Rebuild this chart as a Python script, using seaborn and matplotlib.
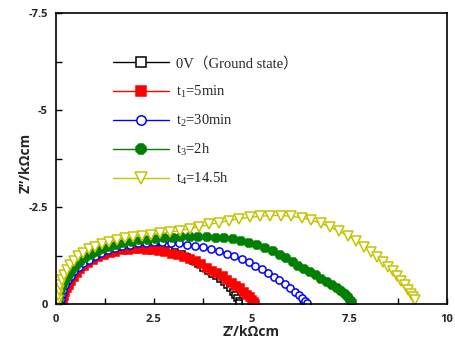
#!/usr/bin/env python3
"""
Nyquist plot - EIS spectra at different times
"""

import numpy as np
import pandas as pd
import matplotlib
matplotlib.use('Agg')
import matplotlib.pyplot as plt
from matplotlib.ticker import MultipleLocator, FixedLocator, FixedFormatter
from matplotlib.font_manager import FontProperties
import seaborn as sns

sns.set_style('ticks')
plt.rcParams['mathtext.fontset'] = 'custom'
plt.rcParams['mathtext.rm'] = 'Liberation Serif'
plt.rcParams['mathtext.it'] = 'Liberation Serif:italic'

# Data: Z' (kOhm cm) and -Z'' (kOhm cm)
labels = ['0V（Ground state）', 't$_1$=5min', 't$_2$=30min', 't$_3$=2h', 't$_4$=14.5h']

zr_0v = [0.03, 0.05, 0.08, 0.11, 0.16, 0.22, 0.29, 0.38, 0.48, 0.6, 0.73, 0.87, 1.03, 1.2,
         1.38, 1.57, 1.76, 1.95, 2.14, 2.33, 2.52, 2.7, 2.88, 3.05, 3.21, 3.36, 3.5, 3.63,
         3.76, 3.88, 3.99, 4.1, 4.2, 4.29, 4.37, 4.45, 4.52, 4.58, 4.63, 4.67, 4.69]
zi_0v = [0.0, 0.12, 0.25, 0.38, 0.51, 0.64, 0.77, 0.89, 1.0, 1.1, 1.19, 1.27, 1.34, 1.4,
         1.44, 1.47, 1.49, 1.5, 1.5, 1.49, 1.47, 1.44, 1.4, 1.35, 1.28, 1.2, 1.11, 1.02,
         0.93, 0.85, 0.78, 0.71, 0.64, 0.56, 0.48, 0.4, 0.32, 0.24, 0.16, 0.08, 0.02]

zr_t1 = [0.15, 0.17, 0.2, 0.23, 0.27, 0.32, 0.38, 0.45, 0.53, 0.62, 0.72, 0.83, 0.95, 1.08,
         1.22, 1.37, 1.52, 1.68, 1.84, 2.0, 2.16, 2.32, 2.48, 2.64, 2.8, 2.96, 3.12, 3.28,
         3.43, 3.58, 3.72, 3.86, 4.0, 4.13, 4.26, 4.38, 4.5, 4.61, 4.71, 4.8, 4.88, 4.95,
         5.01, 5.06, 5.09]
zi_t1 = [0.0, 0.1, 0.2, 0.3, 0.4, 0.5, 0.6, 0.7, 0.8, 0.89, 0.98, 1.06, 1.13, 1.2,
         1.26, 1.31, 1.35, 1.38, 1.4, 1.41, 1.41, 1.4, 1.38, 1.36, 1.33, 1.3, 1.26, 1.21,
         1.16, 1.1, 1.03, 0.94, 0.86, 0.79, 0.71, 0.63, 0.55, 0.47, 0.4, 0.32, 0.24, 0.17,
         0.1, 0.05, 0.01]

zr_t2 = [0.1, 0.12, 0.15, 0.19, 0.24, 0.3, 0.38, 0.47, 0.58, 0.7, 0.84, 0.99, 1.15, 1.32,
         1.5, 1.69, 1.89, 2.09, 2.3, 2.51, 2.72, 2.93, 3.14, 3.35, 3.56, 3.77, 3.97, 4.17,
         4.37, 4.56, 4.75, 4.93, 5.1, 5.26, 5.42, 5.57, 5.71, 5.85, 5.98, 6.1, 6.21, 6.3,
         6.38, 6.43]
zi_t2 = [0.0, 0.12, 0.25, 0.37, 0.49, 0.61, 0.73, 0.84, 0.95, 1.05, 1.14, 1.23, 1.31, 1.38,
         1.44, 1.49, 1.53, 1.56, 1.58, 1.59, 1.59, 1.58, 1.56, 1.53, 1.5, 1.46, 1.41, 1.36,
         1.3, 1.23, 1.16, 1.08, 0.99, 0.9, 0.8, 0.7, 0.61, 0.51, 0.42, 0.32, 0.23, 0.15,
         0.08, 0.03]

zr_t3 = [0.05, 0.07, 0.1, 0.14, 0.19, 0.25, 0.32, 0.41, 0.51, 0.62, 0.75, 0.89, 1.04, 1.2,
         1.37, 1.55, 1.74, 1.94, 2.14, 2.35, 2.56, 2.77, 2.98, 3.2, 3.42, 3.64, 3.86, 4.08,
         4.3, 4.52, 4.73, 4.94, 5.15, 5.35, 5.54, 5.72, 5.89, 6.05, 6.2, 6.35, 6.5, 6.65,
         6.79, 6.93, 7.06, 7.18, 7.29, 7.38, 7.46, 7.52, 7.56]
zi_t3 = [0.0, 0.12, 0.25, 0.38, 0.5, 0.63, 0.75, 0.87, 0.98, 1.08, 1.18, 1.27, 1.35, 1.42,
         1.48, 1.53, 1.57, 1.61, 1.64, 1.66, 1.68, 1.7, 1.71, 1.72, 1.73, 1.73, 1.72, 1.71,
         1.7, 1.67, 1.63, 1.58, 1.51, 1.44, 1.36, 1.27, 1.18, 1.08, 0.98, 0.9, 0.82, 0.74,
         0.65, 0.57, 0.49, 0.41, 0.33, 0.25, 0.17, 0.1, 0.05]

zr_t4 = [0.03, 0.04, 0.06, 0.08, 0.11, 0.15, 0.2, 0.27, 0.35, 0.45, 0.57, 0.7, 0.85, 1.0,
         1.17, 1.35, 1.55, 1.76, 1.98, 2.2, 2.43, 2.67, 2.92, 3.17, 3.42, 3.67, 3.92, 4.17,
         4.43, 4.69, 4.95, 5.21, 5.48, 5.75, 6.02, 6.28, 6.53, 6.78, 7.02, 7.25, 7.47, 7.68,
         7.88, 8.06, 8.22, 8.37, 8.5, 8.62, 8.73, 8.83, 8.92, 9.0, 9.07, 9.13, 9.19]
zi_t4 = [0.0, 0.1, 0.22, 0.35, 0.48, 0.62, 0.75, 0.88, 1.0, 1.12, 1.23, 1.32, 1.41, 1.48,
         1.54, 1.6, 1.65, 1.69, 1.73, 1.76, 1.79, 1.82, 1.85, 1.89, 1.94, 1.99, 2.05, 2.1,
         2.15, 2.2, 2.23, 2.26, 2.28, 2.28, 2.26, 2.22, 2.16, 2.08, 1.98, 1.87, 1.75, 1.62,
         1.48, 1.35, 1.22, 1.09, 0.96, 0.84, 0.72, 0.6, 0.48, 0.37, 0.27, 0.18, 0.11]

series = [
    (zr_0v, zi_0v, 'black', 's', 'white', 5.0),
    (zr_t1, zi_t1, 'red', 's', 'red', 5.5),
    (zr_t2, zi_t2, 'blue', 'o', 'white', 5.2),
    (zr_t3, zi_t3, 'green', '8', 'green', 5.8),
    (zr_t4, zi_t4, '#c4c400', 'v', 'white', 6.5),
]

fig = plt.figure(figsize=(4.56, 3.49), dpi=100)
ax = fig.add_axes([56 / 456, 1 - 304 / 349, 391 / 456, 291 / 349])

for (zr, zi, col, mk, fc, ms), lab in zip(series, labels):
    df = pd.DataFrame({'zr': zr, 'zi': -np.array(zi)})
    sns.lineplot(data=df, x='zr', y='zi', ax=ax, sort=False, estimator=None,
                 errorbar=None, color=col, linewidth=1, marker=mk, markersize=ms,
                 markerfacecolor=fc, markeredgecolor=col, markeredgewidth=1.1, label=lab)

ax.set_xlim(0, 10)
ax.set_ylim(0, -7.5)

tick_font = FontProperties(family='Open Sans', weight='bold', size=8)
ax.xaxis.set_major_locator(FixedLocator([0, 2.5, 5, 7.5, 10]))
ax.xaxis.set_major_formatter(FixedFormatter(['0', '2.5', '5', '7.5', '10']))
ax.yaxis.set_major_locator(FixedLocator([0, -2.5, -5, -7.5]))
ax.yaxis.set_major_formatter(FixedFormatter(['0', '-2.5', '-5', '-7.5']))
ax.xaxis.set_minor_locator(MultipleLocator(1.25))
ax.yaxis.set_minor_locator(MultipleLocator(1.25))
ax.tick_params(which='both', direction='in', length=4, width=1, color='black',
               top=False, right=False)
for lbl in ax.get_xticklabels() + ax.get_yticklabels():
    lbl.set_fontproperties(tick_font)
ax.tick_params(axis='x', pad=7)
ax.tick_params(axis='y', pad=6)

for sp in ax.spines.values():
    sp.set_visible(True)
    sp.set_linewidth(1.2)
    sp.set_color('black')

label_font = FontProperties(family='Open Sans', weight='bold', size=10)
ax.set_xlabel('Z’/kΩcm', fontproperties=label_font, labelpad=0)
ax.set_ylabel('Z”/kΩcm', fontproperties=label_font)
ax.yaxis.set_label_coords(-0.059, 0.485)

leg_font = FontProperties(family=['Liberation Serif', 'Noto Sans CJK SC'], size=10.5)
ax.legend(loc='upper left', bbox_to_anchor=(0.146, 0.85), frameon=False, prop=leg_font,
          borderpad=0, borderaxespad=0, handlelength=3.8, handletextpad=0.5,
          labelspacing=0.9, markerscale=1.3)

plt.savefig('out.png', dpi=100)
plt.close()
